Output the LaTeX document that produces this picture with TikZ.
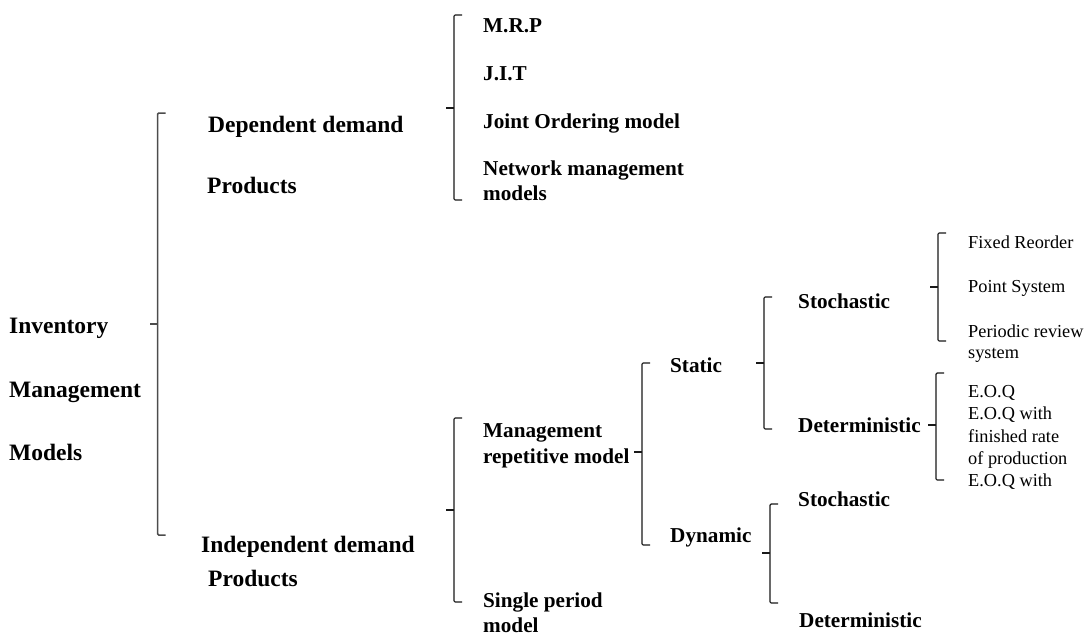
\documentclass[tikz,border=0pt]{standalone}
\usepackage{fontspec}
\setmainfont{Liberation Serif}
% bracket: [style] x, top, middle, bottom, name of the middle tick's tip
\newcommand\grpbracket[6][bracket]{%
  \draw[#1] (#2+8,#3) -- (#2,#3) -- (#2,#5) -- (#2+8,#5);
  \draw[#1,rounded corners=0pt] (#2,#4) -- (#2-8,#4);
  \coordinate (#6) at (#2-8,#4);
}
\begin{document}
\begin{tikzpicture}[x=1pt,y=-1pt,
  lvlA/.style={anchor=base west,inner sep=0pt,font=\fontsize{23.5}{27}\selectfont\bfseries},
  lvlB/.style={anchor=base west,inner sep=0pt,font=\fontsize{21.2}{25}\selectfont\bfseries},
  leaf/.style={anchor=base west,inner sep=0pt,font=\fontsize{18.3}{22}\selectfont},
  bracket/.style={draw=black!90,line width=1.1pt,rounded corners=1.2pt},
  mainbracket/.style={bracket,draw=black!70,line width=1.5pt}]
\useasboundingbox (0,0) rectangle (1091,635);

% root
\node[lvlA] (inv1) at (9,333) {Inventory};
\node[lvlA] (inv2) at (9,397) {Management};
\node[lvlA] (inv3) at (9,460) {Models};
\grpbracket[mainbracket]{157.5}{113}{324}{535}{b-root}

% dependent demand branch
\node[lvlA] (dep1) at (208,132) {Dependent demand};
\node[lvlA] (dep2) at (207,193) {Products};
\grpbracket{454}{15}{108}{200}{b-dep}
\node[lvlB] (mrp) at (483,32) {M.R.P};
\node[lvlB] (jit) at (483,80) {J.I.T};
\node[lvlB] (joint) at (483,128) {Joint Ordering model};
\node[lvlB] (net1) at (483,175) {Network management};
\node[lvlB] (net2) at (483,200) {models};

% independent demand branch
\node[lvlA] (ind1) at (201,552) {Independent demand};
\node[lvlA] (ind2) at (208,586) {Products};
\grpbracket{454}{418}{510}{602}{b-ind}
\node[lvlB] (rep1) at (483,437) {Management};
\node[lvlB] (rep2) at (483,463) {repetitive model};
\node[lvlB] (sp1) at (483,607) {Single period};
\node[lvlB] (sp2) at (483,632) {model};

% repetitive model
\grpbracket{642}{363}{452}{545}{b-rep}
\node[lvlB] (static) at (670,372) {Static};
\node[lvlB] (dynamic) at (670,542) {Dynamic};

% static
\grpbracket{764}{297}{363}{429}{b-static}
\node[lvlB] (sto1) at (798,308) {Stochastic};
\node[lvlB] (det1) at (798,432) {Deterministic};

% dynamic
\grpbracket{770}{504}{553}{603}{b-dyn}
\node[lvlB] (sto2) at (798,506) {Stochastic};
\node[lvlB] (det2) at (799,627) {Deterministic};

% static stochastic
\grpbracket{938}{233}{287}{341}{b-sto}
\node[leaf] (fro) at (968,248) {Fixed Reorder};
\node[leaf] (ps) at (968,292) {Point System};
\node[leaf] (prs1) at (968,337) {Periodic review};
\node[leaf] (prs2) at (968,358) {system};

% static deterministic
\grpbracket{936}{373}{425}{480}{b-det}
\node[leaf] (eoq) at (968,397) {E.O.Q};
\node[leaf] (eoqf1) at (968,419) {E.O.Q with};
\node[leaf] (eoqf2) at (968,442) {finished rate};
\node[leaf] (eoqf3) at (968,464) {of production};
\node[leaf] (eoqw) at (968,486) {E.O.Q with};
\end{tikzpicture}
\end{document}
